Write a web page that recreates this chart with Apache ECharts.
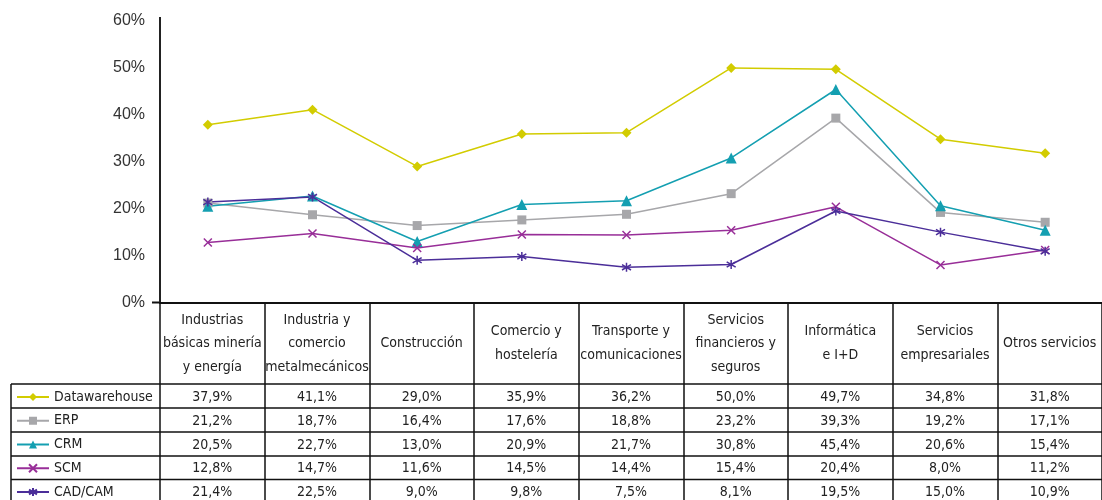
<!DOCTYPE html>
<html>
<head>
<meta charset="utf-8">
<script src="https://cdn.jsdelivr.net/npm/echarts@6/dist/echarts.min.js"></script>
<style>
html, body { margin: 0; padding: 0; background: #fff; }
#main { width: 1102px; height: 500px; }
</style>
</head>
<body>
<div id="main"></div>
<script>
var myChart = echarts.init(document.getElementById('main'));

// sectores
var categories = [
    'Industrias\nbásicas minería\ny energía',
    'Industria y\ncomercio\nmetalmecánicos',
    'Construcción',
    'Comercio y\nhostelería',
    'Transporte y\ncomunicaciones',
    'Servicios\nfinancieros y\nseguros',
    'Informática\ne I+D',
    'Servicios\nempresariales',
    'Otros servicios'
];
var seriesNames = ['Datawarehouse', 'ERP', 'CRM', 'SCM', 'CAD/CAM'];
var datawarehouse = [37.9, 41.1, 29.0, 35.9, 36.2, 50.0, 49.7, 34.8, 31.8];
var erp = [21.2, 18.7, 16.4, 17.6, 18.8, 23.2, 39.3, 19.2, 17.1];
var crm = [20.5, 22.7, 13.0, 20.9, 21.7, 30.8, 45.4, 20.6, 15.4];
var scm = [12.8, 14.7, 11.6, 14.5, 14.4, 15.4, 20.4, 8.0, 11.2];
var cadcam = [21.4, 22.5, 9.0, 9.8, 7.5, 8.1, 19.5, 15.0, 10.9];
var yTicks = [0, 10, 20, 30, 40, 50, 60];

var seriesData = [datawarehouse, erp, crm, scm, cadcam];
var colors = ['#d2cc00', '#a7a7aa', '#149fb1', '#982e98', '#4b2e99'];
var symbols = [
    'diamond',
    'rect',
    'triangle',
    'path://M0,0L10,10M10,0L0,10',
    'path://M5,0L5,10M0,2L10,8M0,8L10,2'
];
var symbolSizes = [10, 9, 11, 8, 9];

var tableFont = '"DejaVu Sans Condensed", "Liberation Sans", sans-serif';
var tableSize = 14;
// filas de la tabla
var rowTops = [384, 408, 432, 456, 479.5, 503];

var series = seriesNames.map(function (name, i) {
    return {
        name: name,
        type: 'line',
        xAxisIndex: 0,
        yAxisIndex: 0,
        data: seriesData[i],
        symbol: symbols[i],
        symbolSize: symbolSizes[i],
        lineStyle: { color: colors[i], width: 1.5 },
        itemStyle: { color: colors[i], borderColor: colors[i], borderWidth: i >= 3 ? 1.5 : 0 },
        animation: false
    };
});

option = {
    animation: false,
    backgroundColor: '#fff',
    // grid 0: lineas (ligeramente desplazadas), grid 1: tabla
    grid: [
        { left: 155.5, right: 4.5, top: 21, bottom: 197.5 },
        { left: 160, right: 0, top: 21, bottom: 197.5 }
    ],
    legend: {
        orient: 'vertical',
        left: 16,
        top: 390,
        height: 200,
        padding: 0,
        itemWidth: 32,
        itemHeight: 10,
        itemGap: 9.75,
        selectedMode: false,
        textStyle: { fontFamily: tableFont, fontSize: tableSize, color: '#222', lineHeight: 14 },
        data: seriesNames
    },
    xAxis: [{
        type: 'category',
        gridIndex: 0,
        data: categories,
        boundaryGap: true,
        axisLine: { show: false },
        axisTick: { show: false },
        axisLabel: { show: false }
    }, {
        type: 'category',
        gridIndex: 1,
        data: categories,
        boundaryGap: true,
        axisLine: { lineStyle: { color: '#111', width: 2 } },
        axisTick: { show: true, interval: 0, length: 198, lineStyle: { color: '#111', width: 1.5 } },
        axisLabel: {
            interval: 0,
            margin: 41,
            verticalAlign: 'middle',
            lineHeight: 23.5,
            fontFamily: tableFont,
            fontSize: tableSize,
            color: '#222'
        }
    }],
    yAxis: [{
        type: 'value',
        gridIndex: 0,
        min: yTicks[0],
        max: yTicks[yTicks.length - 1],
        interval: 10,
        offset: -4.5,
        axisLine: { show: true, lineStyle: { color: '#222', width: 2 } },
        axisTick: { show: false },
        splitLine: { show: false },
        axisLabel: {
            formatter: '{value}%',
            margin: 15,
            fontFamily: '"Liberation Sans", Arial, sans-serif',
            fontSize: 16,
            color: '#333'
        }
    }, {
        type: 'value',
        gridIndex: 1,
        min: 0,
        max: 60,
        show: false
    }],
    series: series
};

myChart.setOption(option);

// tabla de datos
var graphics = [];
var lineStyle = { stroke: '#111', lineWidth: 1.5 };
graphics.push({ type: 'line', shape: { x1: 152, y1: 302.5, x2: 160, y2: 302.5 }, style: { stroke: '#111', lineWidth: 2 } });
graphics.push({ type: 'line', shape: { x1: 160, y1: 17, x2: 160, y2: 22 }, style: { stroke: '#222', lineWidth: 2 } });
for (var r = 0; r < 5; r++) {
    graphics.push({ type: 'line', shape: { x1: 11, y1: rowTops[r], x2: 1102, y2: rowTops[r] }, style: lineStyle });
}
graphics.push({ type: 'line', shape: { x1: 11, y1: 384, x2: 11, y2: 500 }, style: lineStyle });

for (var s = 0; s < seriesData.length; s++) {
    var yc = (rowTops[s] + rowTops[s + 1]) / 2 + 1;
    for (var c = 0; c < categories.length; c++) {
        var x = myChart.convertToPixel({ xAxisIndex: 1 }, c);
        graphics.push({
            type: 'text',
            x: x,
            y: yc,
            style: {
                text: seriesData[s][c].toFixed(1).replace('.', ',') + '%',
                font: tableSize + 'px ' + tableFont,
                fill: '#222',
                align: 'center',
                verticalAlign: 'middle'
            }
        });
    }
}
myChart.setOption({ graphic: graphics });
</script>
</body>
</html>
